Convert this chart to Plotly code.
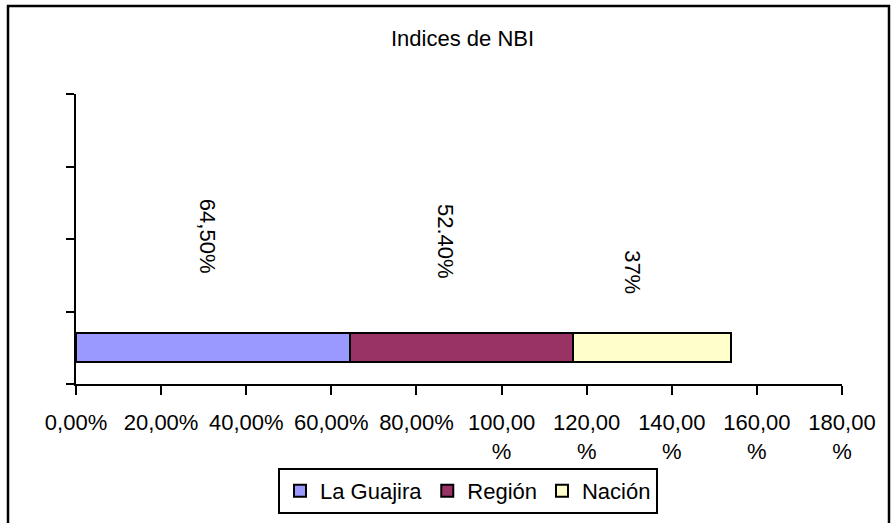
import plotly.graph_objects as go

series = ["La Guajira", "Región", "Nación"]
values = [64.5, 52.4, 37.0]
value_labels = ["64,50%", "52.40%", "37%"]
colors = ["#9999FF", "#993366", "#FFFFCC"]
tick_vals = [0, 20, 40, 60, 80, 100, 120, 140, 160, 180]
tick_text = ["0,00%", "20,00%", "40,00%", "60,00%", "80,00%",
             "100,00<br>%", "120,00<br>%", "140,00<br>%", "160,00<br>%", "180,00<br>%"]
title_text = "Indices de NBI"

FONT = "Liberation Sans, Arial, sans-serif"
FS = 22

fig = go.Figure()
for name, v, c in zip(series, values, colors):
    fig.add_trace(go.Bar(
        x=[v], y=[0.5], orientation="h", name=name, width=0.4,
        marker=dict(color=c, line=dict(color="black", width=2)),
        hoverinfo="skip",
    ))

# data labels (rotated)
label_y = [2.04, 1.96, 1.54]
label_xshift = [-5, -17, -20]
cum = 0
for v, t, ly, xs in zip(values, value_labels, label_y, label_xshift):
    fig.add_annotation(x=cum + v / 2, y=ly, text=t, showarrow=False,
                       textangle=90, xshift=xs,
                       font=dict(family=FONT, size=FS, color="black"))
    cum += v

fig.add_annotation(xref="paper", yref="paper", x=(462 - 76) / 766, y=(384 - 38) / 290,
                   text=title_text, showarrow=False, xanchor="center", yanchor="middle",
                   font=dict(family=FONT, size=FS, color="black"))

# outer border
fig.add_shape(type="rect", xref="paper", yref="paper",
              x0=(8 - 76) / 766, x1=(889 - 76) / 766,
              y0=(384 - 540) / 290, y1=(384 - 6) / 290,
              line=dict(color="black", width=2.5), fillcolor="rgba(0,0,0,0)", layer="below")

fig.update_layout(
    barmode="stack",
    width=896, height=523,
    margin=dict(l=76, r=54, t=94, b=139, autoexpand=False),
    paper_bgcolor="white", plot_bgcolor="white",
    font=dict(family=FONT, size=FS, color="black"),
    showlegend=True,
    legend=dict(orientation="h", x=(278 - 76) / 766, y=(384 - 468) / 290,
                xanchor="left", yanchor="top", traceorder="normal",
                bordercolor="black", borderwidth=2, bgcolor="white",
                font=dict(family=FONT, size=FS, color="black"),
                itemwidth=30, tracegroupgap=0),
    xaxis=dict(range=[0, 180], tickvals=tick_vals, ticktext=tick_text, tickangle=0,
               automargin=False, ticklabelstandoff=9,
               showgrid=False, zeroline=False, showline=True, linecolor="black", linewidth=2,
               ticks="outside", ticklen=9, tickwidth=2, tickcolor="black",
               tickfont=dict(family=FONT, size=FS, color="black"), fixedrange=True),
    yaxis=dict(range=[0, 4], tickvals=[0, 1, 2, 3, 4], showticklabels=False, automargin=False,
               showgrid=False, zeroline=False, showline=True, linecolor="black", linewidth=2,
               ticks="outside", ticklen=8, tickwidth=2, tickcolor="black", fixedrange=True),
)

fig.write_html("out.html", config={"displayModeBar": False},
               post_script="document.body.style.margin='0';document.body.style.overflow='hidden';")
